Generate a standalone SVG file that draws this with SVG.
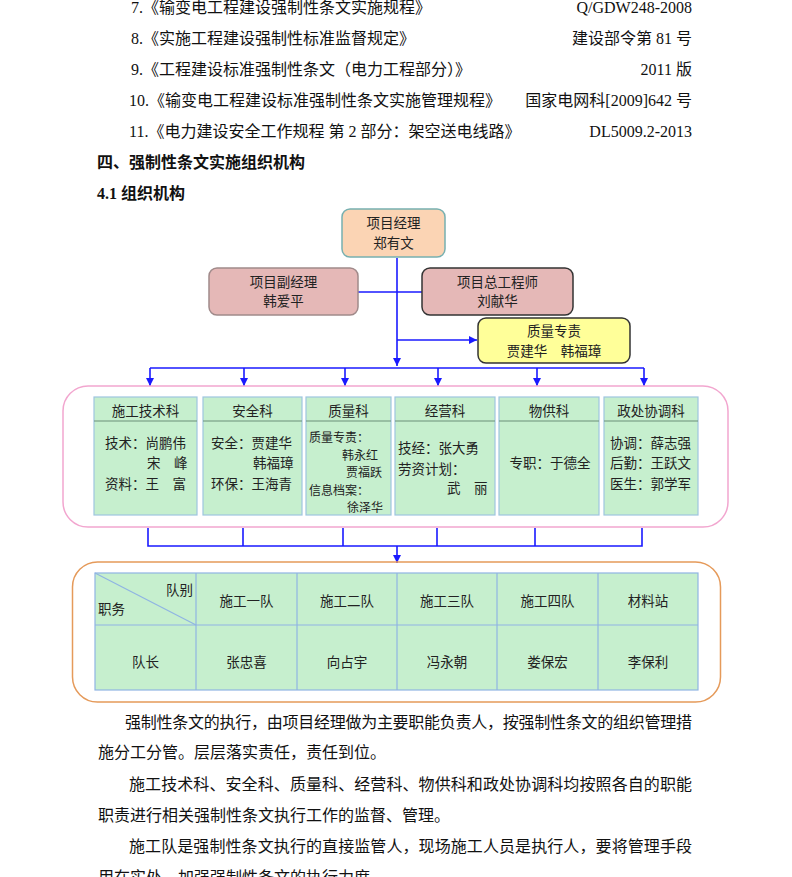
<svg xmlns="http://www.w3.org/2000/svg" width="792" height="877" viewBox="0 0 792 877">
<defs>
<style>
.doc{font-family:"Liberation Serif","Noto Sans CJK SC",serif;font-size:16px;fill:#111}
.hd{font-family:"Liberation Serif","Noto Sans CJK SC",serif;font-size:16px;font-weight:bold;fill:#111}
.t{font-family:"Noto Sans CJK SC","Liberation Sans",sans-serif;font-size:13.5px;fill:#222}
.s{font-size:12px}
.c{text-anchor:middle}
.r{text-anchor:end}
.conn{stroke:#1a1aff;stroke-width:1.6;fill:none}
.dept{fill:#c6efce;stroke:#9ec5df;stroke-width:1.2}
.sep{stroke:#6b8f78;stroke-width:1}
.grid{stroke:#8fb4e3;stroke-width:1.2;fill:none}
</style>
<marker id="ah" markerUnits="userSpaceOnUse" markerWidth="9" markerHeight="9" refX="8" refY="4" orient="auto">
<path d="M0,0 L8,4 L0,8 z" fill="#1a1aff"/>
</marker>
</defs>
<rect width="792" height="877" fill="#fff"/>

<g id="doc-top">
<text class="doc" x="131" y="13">7.《输变电工程建设强制性条文实施规程》</text>
<text class="doc r" x="692" y="13">Q/GDW248-2008</text>
<text class="doc" x="131" y="44">8.《实施工程建设强制性标准监督规定》</text>
<text class="doc r" x="692" y="44">建设部令第 81 号</text>
<text class="doc" x="131" y="75">9.《工程建设标准强制性条文（电力工程部分）》</text>
<text class="doc r" x="692" y="75">2011 版</text>
<text class="doc" x="129" y="106">10.《输变电工程建设标准强制性条文实施管理规程》</text>
<text class="doc r" x="692" y="106">国家电网科[2009]642 号</text>
<text class="doc" x="129" y="137">11.《电力建设安全工作规程 第 2 部分：架空送电线路》</text>
<text class="doc r" x="692" y="137">DL5009.2-2013</text>
<text class="hd" x="97" y="168">四、强制性条文实施组织机构</text>
<text class="hd" x="97" y="199">4.1 组织机构</text>
</g>

<g id="connectors">
<path class="conn" d="M397,258 V366" marker-end="url(#ah)"/>
<path class="conn" d="M358,292 H422"/>
<path class="conn" d="M397,340 H477" marker-end="url(#ah)"/>
<path class="conn" d="M150,368 H644"/>
<path class="conn" d="M150,368 V386" marker-end="url(#ah)"/>
<path class="conn" d="M244,368 V386" marker-end="url(#ah)"/>
<path class="conn" d="M345,368 V386" marker-end="url(#ah)"/>
<path class="conn" d="M438,368 V386" marker-end="url(#ah)"/>
<path class="conn" d="M537,368 V386" marker-end="url(#ah)"/>
<path class="conn" d="M644,368 V386" marker-end="url(#ah)"/>
<path class="conn" d="M148,528 V546 H642 V528 M243,528 V546 M343,528 V546 M437,528 V546 M535,528 V546"/>
<path class="conn" d="M397,546 V563" marker-end="url(#ah)"/>
</g>

<g id="pm">
<rect x="342" y="209" width="103" height="48" rx="8" fill="#fbd4b4" stroke="#77b0b0" stroke-width="1.5"/>
<text class="t c" x="393.5" y="228">项目经理</text>
<text class="t c" x="393.5" y="248">郑有文</text>
</g>
<g id="deputy">
<rect x="209" y="268" width="149" height="47" rx="8" fill="#e5b8b7" stroke="#a08a8a" stroke-width="1.5"/>
<text class="t c" x="283.5" y="287">项目副经理</text>
<text class="t c" x="283.5" y="306">韩爱平</text>
</g>
<g id="chief-engineer">
<rect x="422" y="268" width="151" height="47" rx="8" fill="#e5b8b7" stroke="#333" stroke-width="1.5"/>
<text class="t c" x="497.5" y="287">项目总工程师</text>
<text class="t c" x="497.5" y="306">刘献华</text>
</g>
<g id="quality-lead">
<rect x="478" y="318" width="152" height="45" rx="8" fill="#ffff99" stroke="#333" stroke-width="1.5"/>
<text class="t c" x="554" y="336">质量专责</text>
<text class="t c" x="554" y="356">贾建华　韩福璋</text>
</g>

<g id="dept-container">
<rect x="63" y="386" width="665" height="141" rx="25" fill="none" stroke="#f2a6cf" stroke-width="1.5"/>
</g>

<g id="dept-tech">
<rect class="dept" x="94" y="397" width="103" height="118"/>
<line class="sep" x1="94" y1="421" x2="197" y2="421"/>
<text class="t c" x="145.5" y="416">施工技术科</text>
<text class="t" x="105" y="448">技术：尚鹏伟</text>
<text class="t" x="147" y="468">宋　峰</text>
<text class="t" x="105" y="489">资料：王　富</text>
</g>
<g id="dept-safety">
<rect class="dept" x="203" y="397" width="99" height="118"/>
<line class="sep" x1="203" y1="421" x2="302" y2="421"/>
<text class="t c" x="252.5" y="416">安全科</text>
<text class="t" x="211" y="448">安全：贾建华</text>
<text class="t" x="253" y="468">韩福璋</text>
<text class="t" x="211" y="489">环保：王海青</text>
</g>
<g id="dept-quality">
<rect class="dept" x="306" y="397" width="85" height="118"/>
<line class="sep" x1="306" y1="421" x2="391" y2="421"/>
<text class="t c" x="348.5" y="416">质量科</text>
<text class="t s" x="309" y="442">质量专责：</text>
<text class="t s" x="342" y="459.5">韩永红</text>
<text class="t s" x="346" y="477">贾福跃</text>
<text class="t s" x="309" y="494.5">信息档案：</text>
<text class="t s" x="347" y="512">徐泽华</text>
</g>
<g id="dept-business">
<rect class="dept" x="395" y="397" width="100" height="118"/>
<line class="sep" x1="395" y1="421" x2="495" y2="421"/>
<text class="t c" x="445" y="416">经营科</text>
<text class="t" x="398" y="453">技经：张大勇</text>
<text class="t" x="398" y="474">劳资计划：</text>
<text class="t" x="447" y="493">武　丽</text>
</g>
<g id="dept-supply">
<rect class="dept" x="499" y="397" width="100" height="118"/>
<line class="sep" x1="499" y1="421" x2="599" y2="421"/>
<text class="t c" x="549" y="416">物供科</text>
<text class="t c" x="550" y="468">专职：于德全</text>
</g>
<g id="dept-coord">
<rect class="dept" x="604" y="397" width="94" height="118"/>
<line class="sep" x1="604" y1="421" x2="698" y2="421"/>
<text class="t c" x="651" y="416">政处协调科</text>
<text class="t" x="610" y="448">协调：薛志强</text>
<text class="t" x="610" y="468">后勤：王跃文</text>
<text class="t" x="610" y="489">医生：郭学军</text>
</g>

<g id="teams">
<rect x="72.5" y="562" width="648" height="140" rx="25" fill="none" stroke="#e59a5a" stroke-width="1.5"/>
<rect x="95" y="573" width="603" height="117" fill="#c6efce"/>
<g class="grid">
<rect x="95" y="573" width="603" height="117"/>
<line x1="95" y1="625" x2="698" y2="625"/>
<line x1="196" y1="573" x2="196" y2="690"/>
<line x1="297" y1="573" x2="297" y2="690"/>
<line x1="397" y1="573" x2="397" y2="690"/>
<line x1="497" y1="573" x2="497" y2="690"/>
<line x1="598" y1="573" x2="598" y2="690"/>
<line x1="95" y1="573" x2="196" y2="625"/>
</g>
<text class="t r" x="193" y="595">队别</text>
<text class="t" x="98" y="614">职务</text>
<text class="t c" x="246.5" y="606">施工一队</text>
<text class="t c" x="347" y="606">施工二队</text>
<text class="t c" x="447" y="606">施工三队</text>
<text class="t c" x="547.5" y="606">施工四队</text>
<text class="t c" x="648" y="606">材料站</text>
<text class="t c" x="145.5" y="667">队长</text>
<text class="t c" x="246.5" y="667">张忠喜</text>
<text class="t c" x="347" y="667">向占宇</text>
<text class="t c" x="447" y="667">冯永朝</text>
<text class="t c" x="547.5" y="667">娄保宏</text>
<text class="t c" x="648" y="667">李保利</text>
</g>

<g id="doc-bottom">
<text class="doc" x="125" y="728" textLength="567" lengthAdjust="spacing">强制性条文的执行，由项目经理做为主要职能负责人，按强制性条文的组织管理措</text>
<text class="doc" x="98" y="758">施分工分管。层层落实责任，责任到位。</text>
<text class="doc" x="129" y="790" textLength="563" lengthAdjust="spacing">施工技术科、安全科、质量科、经营科、物供科和政处协调科均按照各自的职能</text>
<text class="doc" x="98" y="821">职责进行相关强制性条文执行工作的监督、管理。</text>
<text class="doc" x="129" y="852" textLength="563" lengthAdjust="spacing">施工队是强制性条文执行的直接监管人，现场施工人员是执行人，要将管理手段</text>
<text class="doc" x="98" y="883">用在实处，加强强制性条文的执行力度。</text>
</g>
</svg>
